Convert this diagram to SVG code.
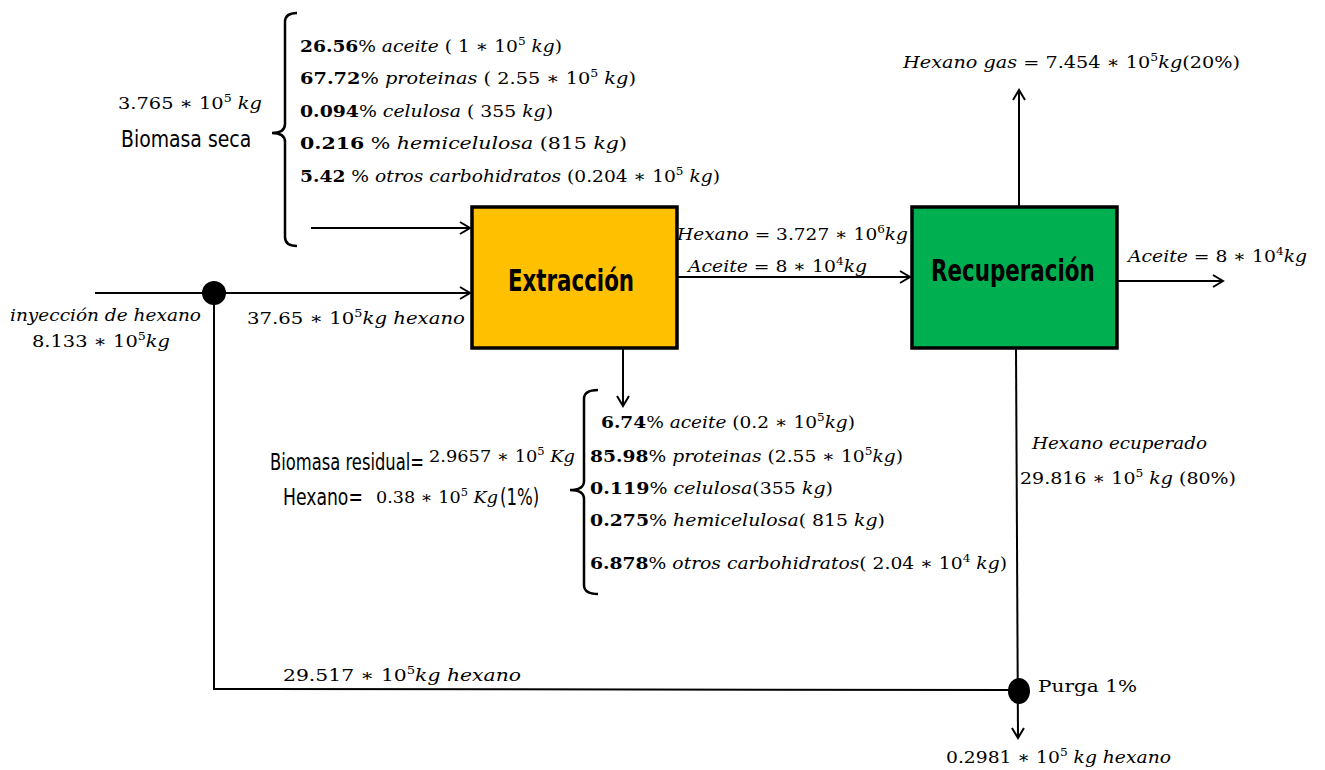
<svg xmlns="http://www.w3.org/2000/svg" width="1325" height="770" viewBox="0 0 1325 770">
<style>
text{font-family:"DejaVu Serif","Liberation Serif",serif;font-size:17px;fill:#000}
.i{font-style:italic}
.b{font-weight:bold}
.s{font-size:11px}
.c{font-family:"DejaVu Sans","Liberation Sans",sans-serif;font-size:23px}
.t{font-family:"DejaVu Sans","Liberation Sans",sans-serif;font-weight:bold;font-size:30px}
.ln{fill:none;stroke:#000;stroke-width:2}
.br{fill:none;stroke:#000;stroke-width:2.5}
.box{stroke:#000;stroke-width:3.5}
</style>
<defs>
<marker id="ah" markerWidth="14" markerHeight="14" refX="12" refY="7" orient="auto" markerUnits="userSpaceOnUse">
<polyline points="2,1 12,7 2,13" fill="none" stroke="#000" stroke-width="2"/>
</marker>
</defs>
<rect width="1325" height="770" fill="#fff"/>
<g id="connectors">
<line class="ln" x1="311" y1="228" x2="470" y2="228" marker-end="url(#ah)"/>
<line class="ln" x1="95" y1="293" x2="470" y2="293" marker-end="url(#ah)"/>
<polyline class="ln" points="214,293 214,689 1018,690"/>
<line class="ln" x1="677" y1="277" x2="910" y2="277" marker-end="url(#ah)"/>
<line class="ln" x1="1019" y1="207" x2="1019" y2="90" marker-end="url(#ah)"/>
<line class="ln" x1="1117" y1="281" x2="1223" y2="281" marker-end="url(#ah)"/>
<line class="ln" x1="1016" y1="348" x2="1018" y2="738" marker-end="url(#ah)"/>
<line class="ln" x1="623" y1="348" x2="623" y2="406" marker-end="url(#ah)"/>
<circle cx="214" cy="293" r="12" fill="#000"/>
<ellipse cx="1019" cy="691" rx="11" ry="13" fill="#000"/>
</g>
<g id="extraccion">
<rect class="box" x="472" y="207" width="205" height="141" fill="#FFC000"/>
<text class="t" transform="translate(508,291) scale(0.7,1)" x="0" y="0" textLength="180" lengthAdjust="spacingAndGlyphs">Extracción</text>
</g>
<g id="recuperacion">
<rect class="box" x="912" y="207" width="205" height="141" fill="#00B050"/>
<text class="t" transform="translate(931,281) scale(0.7,1)" x="0" y="0" textLength="234" lengthAdjust="spacingAndGlyphs">Recuperación</text>
</g>
<g id="biomasa-seca">
<path class="br" d="M297,13 Q285,13 285,22 L285,124 Q285,133 272,133 Q285,133 285,142 L285,237 Q285,246 297,246"/>
<text x="118" y="109" textLength="144" lengthAdjust="spacingAndGlyphs"><tspan>3.765 ∗ 10</tspan><tspan class="s" dy="-7">5</tspan><tspan class="i" dy="7"> kg</tspan></text>
<text class="c" transform="translate(121,147) scale(0.7,1)" x="0" y="0" textLength="186" lengthAdjust="spacingAndGlyphs">Biomasa seca</text>
<text x="300" y="52" textLength="262" lengthAdjust="spacingAndGlyphs"><tspan class="b">26.56</tspan>% <tspan class="i">aceite</tspan> ( 1 ∗ 10<tspan class="s" dy="-7">5</tspan><tspan class="i" dy="7"> kg</tspan>)</text>
<text x="300" y="84" textLength="336" lengthAdjust="spacingAndGlyphs"><tspan class="b">67.72</tspan>% <tspan class="i">proteinas</tspan> ( 2.55 ∗ 10<tspan class="s" dy="-7">5</tspan><tspan class="i" dy="7"> kg</tspan>)</text>
<text x="300" y="117" textLength="253" lengthAdjust="spacingAndGlyphs"><tspan class="b">0.094</tspan>% <tspan class="i">celulosa</tspan> ( 355 <tspan class="i">kg</tspan>)</text>
<text x="300" y="149" textLength="327" lengthAdjust="spacingAndGlyphs"><tspan class="b">0.216</tspan> % <tspan class="i">hemicelulosa</tspan> (815 <tspan class="i">kg</tspan>)</text>
<text x="300" y="182" textLength="420" lengthAdjust="spacingAndGlyphs"><tspan class="b">5.42</tspan> % <tspan class="i">otros carbohidratos</tspan> (0.204 ∗ 10<tspan class="s" dy="-7">5</tspan><tspan class="i" dy="7"> kg</tspan>)</text>
</g>
<g id="inyeccion">
<text class="i" x="10" y="321" textLength="191" lengthAdjust="spacingAndGlyphs">inyección de hexano</text>
<text x="32" y="347" textLength="138" lengthAdjust="spacingAndGlyphs">8.133 ∗ 10<tspan class="s" dy="-7">5</tspan><tspan class="i" dy="7">kg</tspan></text>
<text x="247" y="324" textLength="218" lengthAdjust="spacingAndGlyphs">37.65 ∗ 10<tspan class="s" dy="-7">5</tspan><tspan class="i" dy="7">kg hexano</tspan></text>
</g>
<g id="corriente-extracto">
<text x="677" y="240" textLength="231" lengthAdjust="spacingAndGlyphs"><tspan class="i">Hexano</tspan> = 3.727 ∗ 10<tspan class="s" dy="-7">6</tspan><tspan class="i" dy="7">kg</tspan></text>
<text x="688" y="272" textLength="179" lengthAdjust="spacingAndGlyphs"><tspan class="i">Aceite</tspan> = 8 ∗ 10<tspan class="s" dy="-7">4</tspan><tspan class="i" dy="7">kg</tspan></text>
</g>
<g id="hexano-gas">
<text x="903" y="68" textLength="337" lengthAdjust="spacingAndGlyphs"><tspan class="i">Hexano gas</tspan> = 7.454 ∗ 10<tspan class="s" dy="-7">5</tspan><tspan class="i" dy="7">kg</tspan>(20%)</text>
</g>
<g id="aceite-salida">
<text x="1128" y="262" textLength="179" lengthAdjust="spacingAndGlyphs"><tspan class="i">Aceite</tspan> = 8 ∗ 10<tspan class="s" dy="-7">4</tspan><tspan class="i" dy="7">kg</tspan></text>
</g>
<g id="hexano-recuperado">
<text class="i" x="1032" y="449" textLength="175" lengthAdjust="spacingAndGlyphs">Hexano ecuperado</text>
<text x="1020" y="484" textLength="216" lengthAdjust="spacingAndGlyphs">29.816 ∗ 10<tspan class="s" dy="-7">5</tspan><tspan class="i" dy="7"> kg</tspan> (80%)</text>
</g>
<g id="purga">
<text x="1038" y="692" textLength="99" lengthAdjust="spacingAndGlyphs">Purga 1%</text>
<text x="946" y="763" textLength="225" lengthAdjust="spacingAndGlyphs">0.2981 ∗ 10<tspan class="s" dy="-7">5</tspan><tspan class="i" dy="7"> kg hexano</tspan></text>
</g>
<g id="reciclo">
<text x="283" y="681" textLength="238" lengthAdjust="spacingAndGlyphs">29.517 ∗ 10<tspan class="s" dy="-7">5</tspan><tspan class="i" dy="7">kg hexano</tspan></text>
</g>
<g id="biomasa-residual">
<path class="br" d="M598,390 Q584,390 584,399 L584,481 Q584,490 570,490 Q584,490 584,499 L584,585 Q584,594 598,594"/>
<text class="c" transform="translate(270,470) scale(0.7,1)" x="0" y="0" textLength="220" lengthAdjust="spacingAndGlyphs">Biomasa residual=</text>
<text x="429" y="462" font-size="16" textLength="146" lengthAdjust="spacingAndGlyphs">2.9657 ∗ 10<tspan class="s" dy="-7">5</tspan><tspan class="i" dy="7"> Kg</tspan></text>
<text class="c" transform="translate(283,505) scale(0.7,1)" x="0" y="0" textLength="114" lengthAdjust="spacingAndGlyphs">Hexano=</text>
<text x="376" y="503" font-size="16" textLength="122" lengthAdjust="spacingAndGlyphs">0.38 ∗ 10<tspan class="s" dy="-7">5</tspan><tspan class="i" dy="7"> Kg</tspan></text>
<text class="c" transform="translate(500,505) scale(0.7,1)" x="0" y="0" textLength="56" lengthAdjust="spacingAndGlyphs">(1%)</text>
<text x="601" y="428" textLength="254" lengthAdjust="spacingAndGlyphs"><tspan class="b">6.74</tspan>% <tspan class="i">aceite</tspan> (0.2 ∗ 10<tspan class="s" dy="-7">5</tspan><tspan class="i" dy="7">kg</tspan>)</text>
<text x="590" y="462" textLength="313" lengthAdjust="spacingAndGlyphs"><tspan class="b">85.98</tspan>% <tspan class="i">proteinas</tspan> (2.55 ∗ 10<tspan class="s" dy="-7">5</tspan><tspan class="i" dy="7">kg</tspan>)</text>
<text x="590" y="494" textLength="243" lengthAdjust="spacingAndGlyphs"><tspan class="b">0.119</tspan>% <tspan class="i">celulosa</tspan>(355 <tspan class="i">kg</tspan>)</text>
<text x="590" y="526" textLength="295" lengthAdjust="spacingAndGlyphs"><tspan class="b">0.275</tspan>% <tspan class="i">hemicelulosa</tspan>( 815 <tspan class="i">kg</tspan>)</text>
<text x="590" y="569" textLength="417" lengthAdjust="spacingAndGlyphs"><tspan class="b">6.878</tspan>% <tspan class="i">otros carbohidratos</tspan>( 2.04 ∗ 10<tspan class="s" dy="-7">4</tspan><tspan class="i" dy="7"> kg</tspan>)</text>
</g>
</svg>
